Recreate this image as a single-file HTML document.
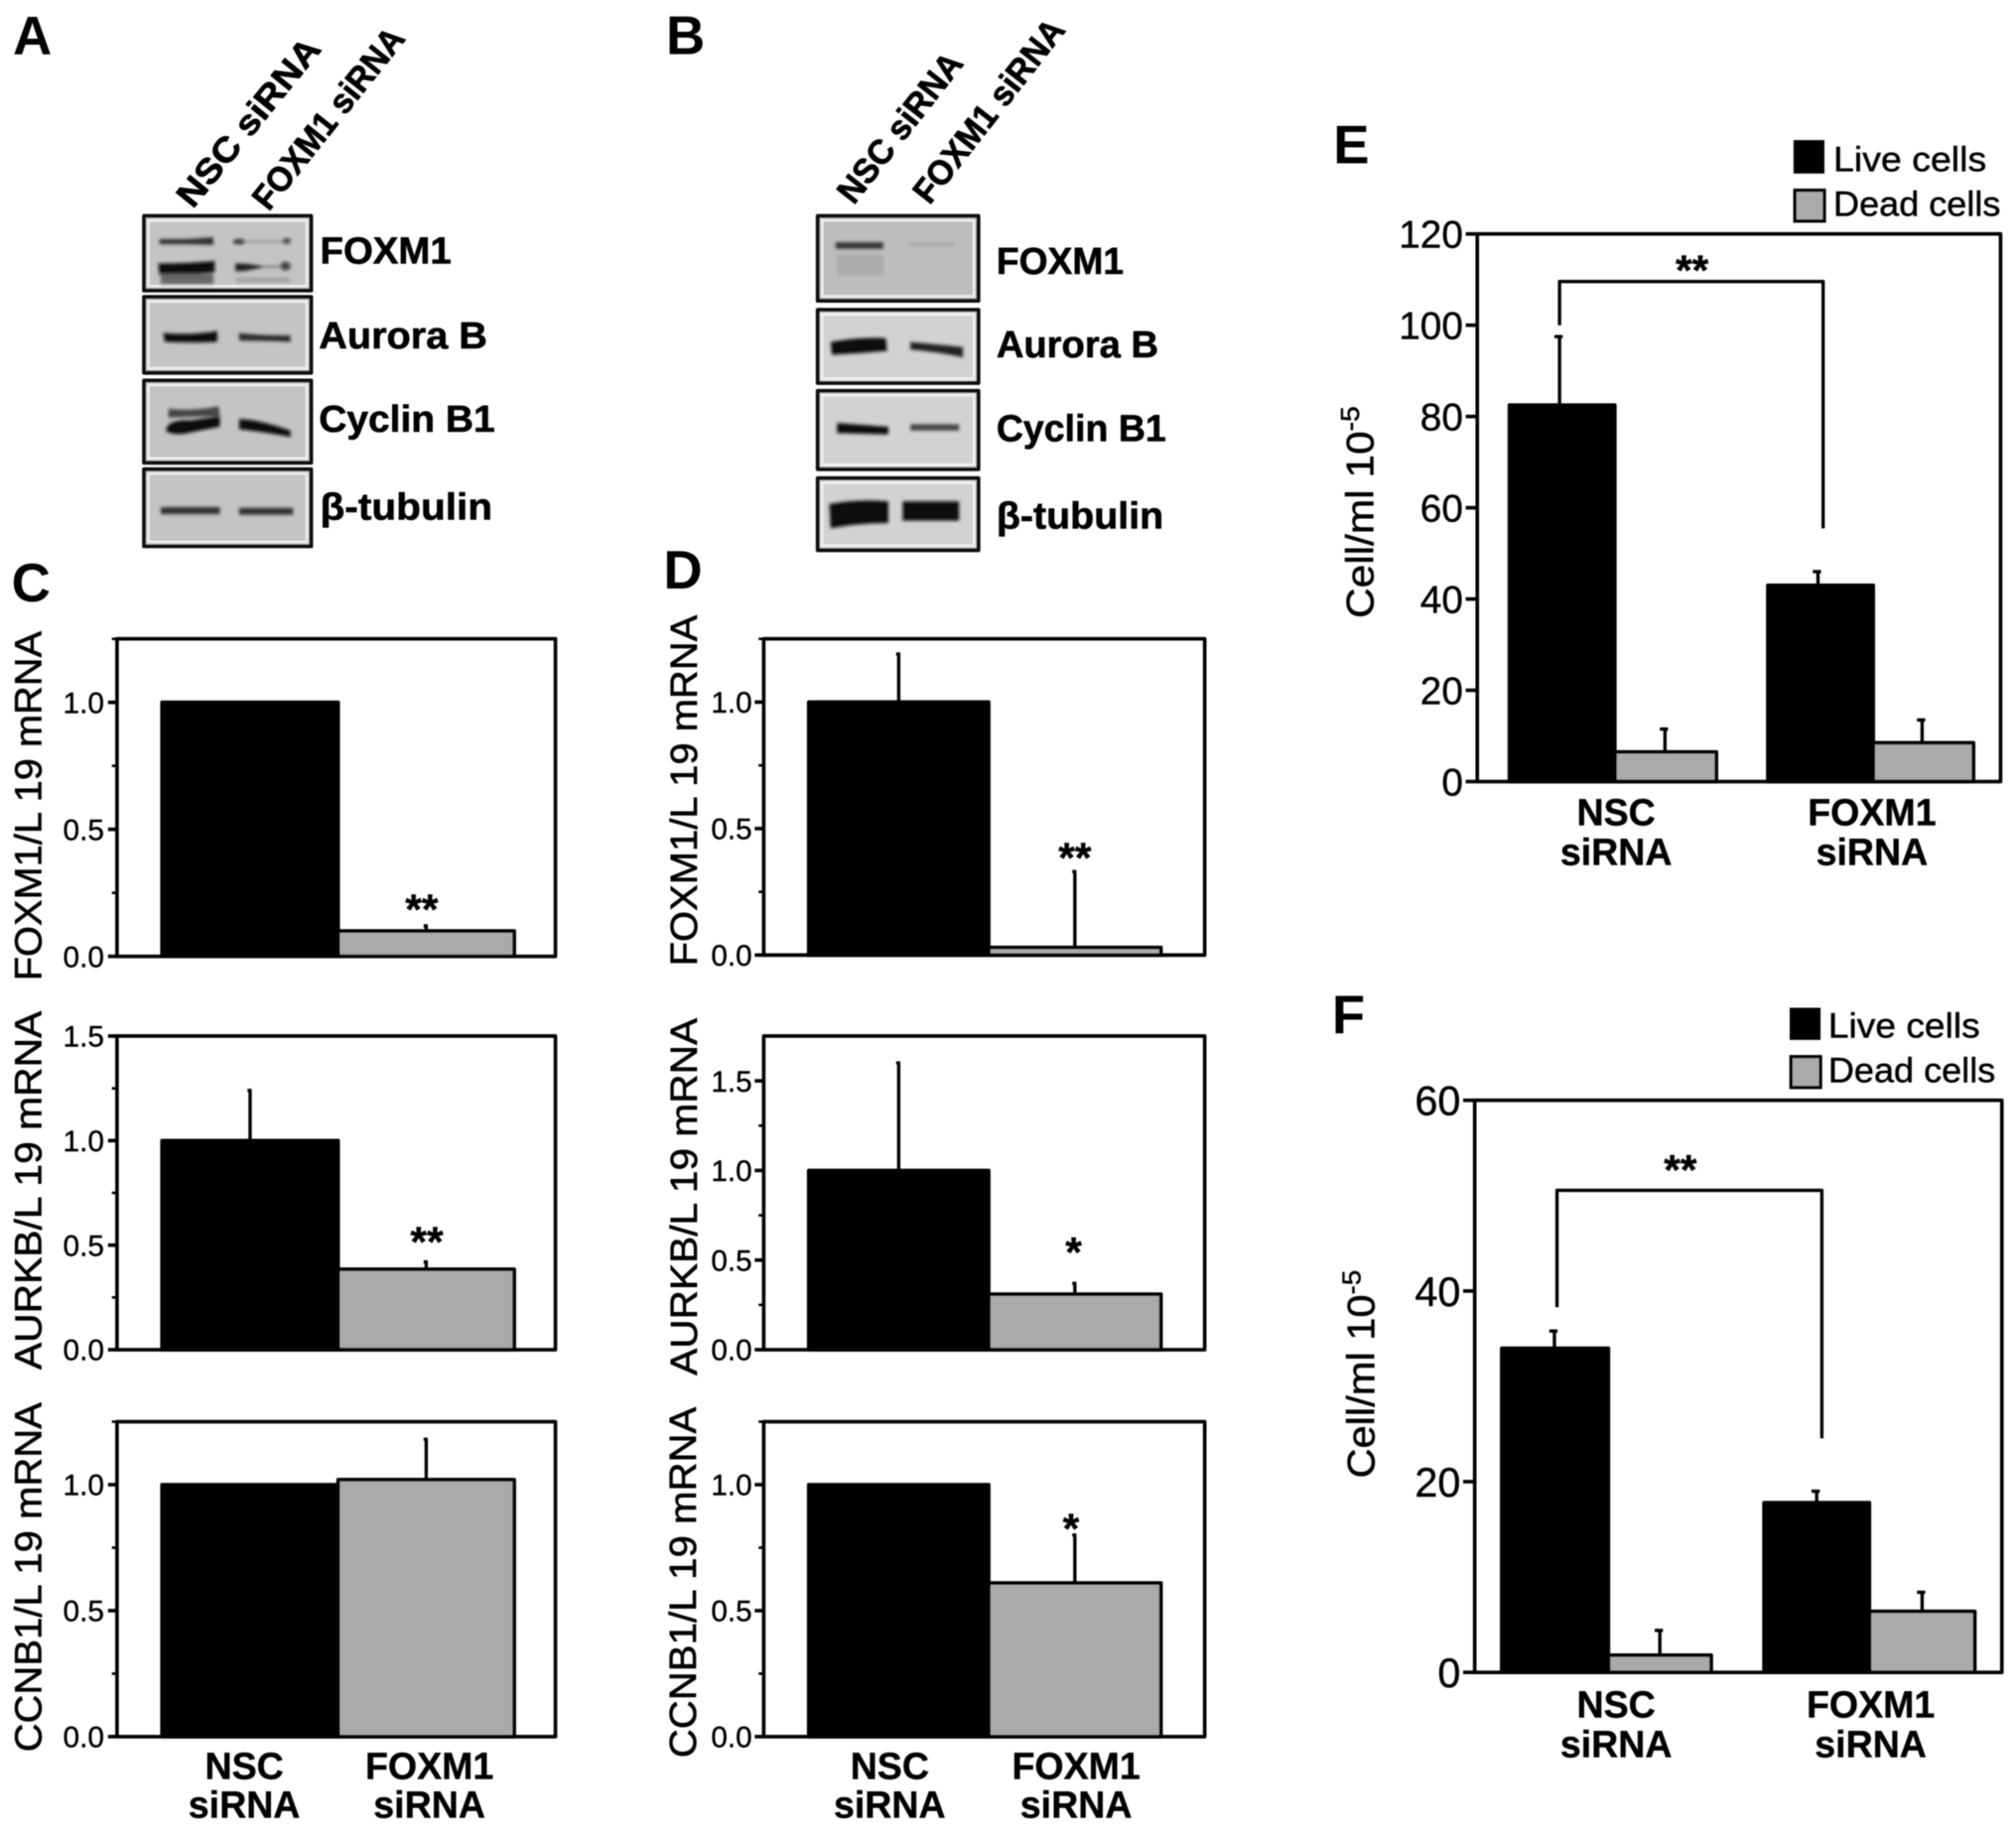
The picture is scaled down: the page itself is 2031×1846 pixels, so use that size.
<!DOCTYPE html>
<html lang="en">
<head>
<meta charset="utf-8">
<title>FOXM1 siRNA knockdown figure</title>
<style>
html,body{margin:0;padding:0;background:#fff;width:2031px;height:1846px;overflow:hidden}
svg{display:block}
text{font-family:"Liberation Sans",sans-serif;fill:#000}
.letter{font-size:42px;font-weight:bold}
.blot-label{font-size:29px;font-weight:bold;stroke:#000;stroke-width:.45px}
.rot{font-size:27px;font-weight:bold;stroke:#000;stroke-width:.55px}
.ytitle{font-size:29.5px;stroke:#000;stroke-width:.45px}
.ytitle2{font-size:30px;stroke:#000;stroke-width:.4px}
.legend{font-size:27px;stroke:#000;stroke-width:.35px}
.tick-text{stroke:#000;stroke-width:.3px}
.frame{fill:#c4c4c4;stroke:#111;stroke-width:3;stroke-linejoin:round}
.inner{fill:none;stroke:#f2f2f2;stroke-width:1.8}
</style>
</head>
<body>
<svg id="fig" xmlns="http://www.w3.org/2000/svg" width="2031" height="1846" viewBox="0 0 1568 1425.2">
<defs>
<filter id="soft" x="-2%" y="-2%" width="104%" height="104%"><feGaussianBlur stdDeviation="0.5"/></filter>
<filter id="bandblur" x="-20%" y="-100%" width="140%" height="300%"><feGaussianBlur stdDeviation="1.3"/></filter>
</defs>
<rect x="0" y="0" width="1568" height="1425.2" fill="#fff"/>
<g id="root" filter="url(#soft)">
  <text class="letter" x="10" y="42">A</text>
  <text class="letter" x="518" y="42">B</text>
  <text class="letter" x="9" y="468">C</text>
  <text class="letter" x="516" y="458">D</text>
  <text class="letter" x="1037" y="127">E</text>
  <text class="letter" x="1036" y="804">F</text>

  <!-- Blot A -->
  <g>
    <text class="rot" transform="translate(150,163) rotate(-51)" textLength="160" lengthAdjust="spacingAndGlyphs">NSC siRNA</text>
    <text class="rot" transform="translate(209,165) rotate(-51.5)" textLength="172" lengthAdjust="spacingAndGlyphs">FOXM1 siRNA</text>
    <rect class="frame" x="112" y="168" width="130" height="58"/><rect class="inner" x="115.500" y="171.500" width="123" height="51"/>
    <rect class="frame" x="112" y="231" width="130" height="59"/><rect class="inner" x="115.500" y="234.500" width="123" height="52"/>
    <rect class="frame" x="112" y="296" width="130" height="64"/><rect class="inner" x="115.500" y="299.500" width="123" height="57"/>
    <rect class="frame" x="112" y="365" width="130" height="60"/><rect class="inner" x="115.500" y="368.500" width="123" height="53"/>
    <g filter="url(#bandblur)" fill="#111">
      <path d="M124 186 L145 186 L166 184.500 L166 190.500 L145 190 L124 190Z" fill="#333"/>
      <path d="M123 205 Q145 205 167 203 L167 212 Q145 214 124 214Z"/>
      <rect x="125" y="213" width="41" height="8" fill="#666"/>
      <ellipse cx="186" cy="188" rx="5" ry="2.300" fill="#444"/>
      <rect x="190" y="187" width="30" height="1.800" fill="#999"/>
      <ellipse cx="223" cy="187.500" rx="3.500" ry="2.500" fill="#555"/>
      <path d="M183 205 L190 205 L205 207 L205 208 L190 211 L183 211Z" fill="#222"/>
      <rect x="205" y="206.500" width="18" height="2" fill="#888"/>
      <ellipse cx="222" cy="207" rx="4" ry="3.500" fill="#444"/>
      <rect x="184" y="216" width="42" height="4" fill="#a4a4a4"/>
      <path d="M127 259 Q148 261 169 257.500 L169 266 Q148 267 128 266Z"/>
      <path d="M186 259 Q200 261 226 261 L226 266 Q205 265 186 265Z" fill="#2a2a2a"/>
      <path d="M131 318 Q150 320 170 316 L171 324 Q150 324 131 325Z" fill="#444"/>
      <path d="M129 335 Q130 326 148 327 L171 324 L171 332 L150 336 Q135 340 129 335Z"/>
      <path d="M186 326 Q200 326 226 335 L226 340 Q205 336 186 334Z"/>
      <rect x="125" y="394.500" width="46" height="5.500" fill="#333"/>
      <rect x="186" y="395" width="42" height="5.500" fill="#333"/>
    </g>
  </g>

  <!-- Blot B -->
  <g>
    <text class="rot" transform="translate(664,160) rotate(-52)" textLength="140" lengthAdjust="spacingAndGlyphs">NSC siRNA</text>
    <text class="rot" transform="translate(723,160) rotate(-52)" textLength="173" lengthAdjust="spacingAndGlyphs">FOXM1 siRNA</text>
    <rect class="frame" x="636" y="168" width="125" height="66" style="fill:#bdbdbd"/><rect class="inner" x="639.500" y="171.500" width="118" height="59"/>
    <rect class="frame" x="636" y="241" width="125" height="57" style="fill:#d2d2d2"/><rect class="inner" x="639.500" y="244.500" width="118" height="50"/>
    <rect class="frame" x="636" y="304" width="125" height="61" style="fill:#d2d2d2"/><rect class="inner" x="639.500" y="307.500" width="118" height="54"/>
    <rect class="frame" x="636" y="372" width="125" height="56" style="fill:#d2d2d2"/><rect class="inner" x="639.500" y="375.500" width="118" height="49"/>
    <g filter="url(#bandblur)" fill="#111">
      <rect x="650" y="188.500" width="37" height="5" fill="#333"/>
      <rect x="651" y="198" width="36" height="16" fill="#aaa"/>
      <rect x="707" y="188.500" width="35" height="3" fill="#a8a8a8"/>
      <path d="M646 266 Q668 262 689 263 L690 273 Q668 275 647 276Z"/>
      <path d="M708 266 Q730 268 749 270 L749 278 Q730 274 708 272Z" fill="#222"/>
      <path d="M651 329 L691 332 L691 338 L651 337Z"/>
      <rect x="708" y="330" width="38" height="5" fill="#444"/>
      <path d="M645 392 Q668 388 691 390 L691 407 Q668 407 646 411Z"/>
      <path d="M702 390 L746 390 L746 405 L702 405Z"/>
    </g>
  </g>

  <g>
    <text class="blot-label" x="249" y="205" textLength="102" lengthAdjust="spacingAndGlyphs">FOXM1</text>
    <text class="blot-label" x="248" y="271" textLength="131" lengthAdjust="spacingAndGlyphs">Aurora B</text>
    <text class="blot-label" x="248" y="336" textLength="137" lengthAdjust="spacingAndGlyphs">Cyclin B1</text>
    <text class="blot-label" x="249" y="404" textLength="134" lengthAdjust="spacingAndGlyphs">β-tubulin</text>
    <text class="blot-label" x="775" y="213" textLength="99" lengthAdjust="spacingAndGlyphs">FOXM1</text>
    <text class="blot-label" x="775" y="278" textLength="126" lengthAdjust="spacingAndGlyphs">Aurora B</text>
    <text class="blot-label" x="775" y="343" textLength="132" lengthAdjust="spacingAndGlyphs">Cyclin B1</text>
    <text class="blot-label" x="775" y="411" textLength="130" lengthAdjust="spacingAndGlyphs">β-tubulin</text>
  </g>

  <!-- Y axis titles -->
  <text class="ytitle" transform="translate(32,627) rotate(-90)" text-anchor="middle" textLength="272" lengthAdjust="spacingAndGlyphs">FOXM1/L 19 mRNA</text>
  <text class="ytitle" transform="translate(32,926) rotate(-90)" text-anchor="middle" textLength="279" lengthAdjust="spacingAndGlyphs">AURKB/L 19 mRNA</text>
  <text class="ytitle" transform="translate(32,1227) rotate(-90)" text-anchor="middle" textLength="272" lengthAdjust="spacingAndGlyphs">CCNB1/L 19 mRNA</text>
  <text class="ytitle" transform="translate(542,615) rotate(-90)" text-anchor="middle" textLength="273" lengthAdjust="spacingAndGlyphs">FOXM1/L 19 mRNA</text>
  <text class="ytitle" transform="translate(542,931) rotate(-90)" text-anchor="middle" textLength="278" lengthAdjust="spacingAndGlyphs">AURKB/L 19 mRNA</text>
  <text class="ytitle" transform="translate(541,1231) rotate(-90)" text-anchor="middle" textLength="273" lengthAdjust="spacingAndGlyphs">CCNB1/L 19 mRNA</text>
  <text class="ytitle2" transform="translate(1068,481) rotate(-90)" textLength="165" lengthAdjust="spacingAndGlyphs">Cell/ml 10<tspan dy="-11" font-size="20">-5</tspan></text>
  <text class="ytitle2" transform="translate(1069,1150) rotate(-90)" textLength="162" lengthAdjust="spacingAndGlyphs">Cell/ml 10<tspan dy="-11" font-size="20">-5</tspan></text>

  <!-- Legends -->
  <g>
    <rect x="1395" y="109" width="24" height="26" fill="#000"/>
    <text class="legend" x="1426" y="133" textLength="119" lengthAdjust="spacingAndGlyphs">Live cells</text>
    <rect x="1396" y="148" width="23" height="24" fill="#aaa" stroke="#000" stroke-width="2.500"/>
    <text class="legend" x="1426" y="168" textLength="130" lengthAdjust="spacingAndGlyphs">Dead cells</text>
  </g>
  <g>
    <rect x="1392" y="784" width="24" height="25" fill="#000"/>
    <text class="legend" x="1422" y="807" textLength="118" lengthAdjust="spacingAndGlyphs">Live cells</text>
    <rect x="1393" y="822" width="23" height="24" fill="#aaa" stroke="#000" stroke-width="2.500"/>
    <text class="legend" x="1422" y="842" textLength="130" lengthAdjust="spacingAndGlyphs">Dead cells</text>
  </g>
  <g id="charts"></g>
</g>
</svg>
<script>
// Data
const categoryLabels = ['NSC', 'FOXM1'];
const categorySuffix = 'siRNA';

const ticksTop = ['0.0', '0.5', '1.0'];
const ticksAurkbC = ['0.0', '0.5', '1.0', '1.5'];
const ticksAurkbD = ['0.0', '0.5', '1.0', '1.5'];
const minorTop = [0.25, 0.75, 1.25];
const minorAurkbC = [0.25, 0.75, 1.25];
const minorAurkbD = [0.25, 0.75, 1.25];
const ticksE = ['0', '20', '40', '60', '80', '100', '120'];
const ticksF = ['0', '20', '40', '60'];

const c1Values = [1.0, 0.1];
const c1Errors = [null, 0.12];
const c2Values = [1.0, 0.385];
const c2Errors = [1.24, 0.42];
const c3Values = [1.0, 1.02];
const c3Errors = [null, 1.18];

const d1Values = [1.0, 0.03];
const d1Errors = [1.19, 0.33];
const d2Values = [1.0, 0.31];
const d2Errors = [1.6, 0.37];
const d3Values = [1.0, 0.61];
const d3Errors = [null, 0.8];

const eLive = [82.5, 43];
const eLiveErrors = [97.5, 46];
const eDead = [6.5, 8.5];
const eDeadErrors = [11.5, 13.5];

const fLive = [34, 17.8];
const fLiveErrors = [35.8, 19];
const fDead = [1.8, 6.4];
const fDeadErrors = [4.4, 8.4];

const NS = 'http://www.w3.org/2000/svg';
const chartsRoot = document.getElementById('charts');

function mk(parent, tag, attrs, name) {
  const el = document.createElementNS(NS, tag);
  for (const k in attrs) el.setAttribute(k, attrs[k]);
  
  
  parent.appendChild(el);
  return el;
}
function label(parent, x, y, str, size, weight, anchor, name) {
  const t = mk(parent, 'text', {x: x, y: y, 'font-size': size, 'font-weight': weight, 'text-anchor': anchor, 'class': 'tick-text'}, name);
  t.textContent = str;
  return t;
}
function scale(p) {
  return v => p.bottom - (v / p.max) * (p.bottom - p.top);
}
function drawAxes(g, p, y) {
  const lw = p.lw;
  mk(g, 'rect', {x: p.left, y: p.top, width: p.right - p.left, height: p.bottom - p.top, fill: 'none', stroke: '#000', 'stroke-width': lw, 'stroke-linejoin': 'round'}, 'plot-frame');
  p.ticks.forEach(t => {
    const v = parseFloat(t);
    mk(g, 'line', {x1: p.left - p.tickLen, x2: p.left, y1: y(v), y2: y(v), stroke: '#000', 'stroke-width': lw}, 'y-tick-' + t);
    label(g, p.left - p.tickLen - p.labelGap, y(v) + p.tickSize * 0.36, t, p.tickSize, 'normal', 'end', 'y-tick-label-' + t);
  });
  (p.minor || []).forEach(v => {
    mk(g, 'line', {x1: p.left - 4, x2: p.left, y1: y(v), y2: y(v), stroke: '#000', 'stroke-width': 2}, 'y-minor-tick');
  });
}
function drawBar(g, y, x0, x1, value, fill, name) {
  mk(g, 'rect', {x: x0, y: y(value), width: x1 - x0, height: y(0) - y(value), fill: fill, stroke: '#000', 'stroke-width': 2.8, 'stroke-linejoin': 'round'}, name);
}
function drawError(g, y, x, value, err, cap, name) {
  if (err === null) return;
  mk(g, 'line', {x1: x, x2: x, y1: y(value), y2: y(err), stroke: '#000', 'stroke-width': 2.6}, name);
  mk(g, 'line', {x1: x - cap, x2: x + cap * 0.6, y1: y(err), y2: y(err), stroke: '#000', 'stroke-width': 2.6}, name + '-cap');
}
function stars(g, x, yc, str, name) {
  label(g, x, yc + 15.6, str, 33, 'bold', 'middle', name);
}
function catLabels(g, xs, y1, y2, size, nm) {
  categoryLabels.forEach((c, i) => {
    label(g, xs[i], y1, c, size, 'bold', 'middle', nm + '-category-' + c.toLowerCase());
    label(g, xs[i], y2, categorySuffix, size, 'bold', 'middle', nm + '-category-sirna-' + c.toLowerCase());
  });
}

// Two-bar qPCR panels
function twoBar(p) {
  const g = mk(chartsRoot, 'g', {}, 'chart-' + p.id);
  const y = scale(p);
  p.values.forEach((v, i) => {
    const x0 = p.barEdges[i], x1 = p.barEdges[i + 1];
    drawError(g, y, (x0 + x1) / 2, v, p.errors[i], 2, 'error-bar-' + p.id + '-' + categoryLabels[i].toLowerCase());
  });
  p.values.slice().reverse().forEach((v, r) => {
    const i = p.values.length - 1 - r;
    drawBar(g, y, p.barEdges[i], p.barEdges[i + 1], v, i === 0 ? '#000' : '#aaaaaa', 'bar-' + p.id + '-' + categoryLabels[i].toLowerCase());
  });
  drawAxes(g, p, y);
  if (p.star) stars(g, p.star[0], p.star[1], p.star[2], 'significance-' + p.id);
  return g;
}

const leftC = {left: 91, right: 432, lw: 2.8, tickLen: 7, labelGap: 3, tickSize: 23, barEdges: [126, 263, 400]};
const leftD = {left: 594, right: 937, lw: 2.8, tickLen: 7, labelGap: 2, tickSize: 23, barEdges: [629, 769, 903]};

twoBar(Object.assign({}, leftC, {id: 'c1', top: 497, bottom: 744, max: 1.25, ticks: ticksTop, minor: minorTop, values: c1Values, errors: c1Errors, star: [328, 703, '**']}));
twoBar(Object.assign({}, leftC, {id: 'c2', top: 806, bottom: 1050, max: 1.5, ticks: ticksAurkbC, minor: minorAurkbC, values: c2Values, errors: c2Errors, star: [332, 962, '**']}));
const gc3 = twoBar(Object.assign({}, leftC, {id: 'c3', top: 1106, bottom: 1351, max: 1.25, ticks: ticksTop, minor: minorTop, values: c3Values, errors: c3Errors}));
catLabels(gc3, [190, 334], 1384, 1414, 29, 'c');

twoBar(Object.assign({}, leftD, {id: 'd1', top: 497, bottom: 743, max: 1.25, ticks: ticksTop, minor: minorTop, values: d1Values, errors: d1Errors, star: [836, 663, '**']}));
twoBar(Object.assign({}, leftD, {id: 'd2', top: 806, bottom: 1050, max: 1.75, ticks: ticksAurkbD, minor: minorAurkbD, values: d2Values, errors: d2Errors, star: [835, 970, '*']}));
const gd3 = twoBar(Object.assign({}, leftD, {id: 'd3', top: 1106, bottom: 1351, max: 1.25, ticks: ticksTop, minor: minorTop, values: d3Values, errors: d3Errors, star: [833, 1185, '*']}));
catLabels(gd3, [692, 837], 1384, 1414, 29, 'd');

// Grouped live / dead panels
function grouped(p) {
  const g = mk(chartsRoot, 'g', {}, 'chart-' + p.id);
  const y = scale(p);
  categoryLabels.forEach((c, i) => {
    const e = p.edges[i];
    const nm = c.toLowerCase();
    drawError(g, y, p.errX[i * 2], p.live[i], p.liveErr[i], 4, 'error-bar-live-' + p.id + '-' + nm);
    drawError(g, y, p.errX[i * 2 + 1], p.dead[i], p.deadErr[i], 4, 'error-bar-dead-' + p.id + '-' + nm);
    drawBar(g, y, e[1], e[2], p.dead[i], '#aaaaaa', 'bar-dead-' + p.id + '-' + nm);
    drawBar(g, y, e[0], e[1], p.live[i], '#000', 'bar-live-' + p.id + '-' + nm);
  });
  drawAxes(g, p, y);
  const b = p.bracket;
  mk(g, 'path', {d: 'M' + b.x0 + ' ' + b.y0 + 'V' + b.y + 'H' + b.x1 + 'V' + b.y1, fill: 'none', stroke: '#000', 'stroke-width': 2.6, 'stroke-linejoin': 'round'}, 'significance-bracket-' + p.id);
  stars(g, b.sx, b.sy, '**', 'significance-' + p.id);
  catLabels(g, p.catX, p.catY[0], p.catY[1], 29, p.id);
}

grouped({id: 'e', left: 1149, right: 1556, top: 182, bottom: 608, max: 120, lw: 2.8, tickLen: 9, labelGap: 2, tickSize: 30, ticks: ticksE,
  live: eLive, liveErr: eLiveErrors, dead: eDead, deadErr: eDeadErrors,
  edges: [[1174, 1256, 1335], [1375, 1457, 1535]], errX: [1213, 1295, 1414, 1495],
  bracket: {x0: 1213, x1: 1418, y: 219, y0: 253, y1: 411, sx: 1316, sy: 206},
  catX: [1257, 1456], catY: [642, 673]});

grouped({id: 'f', left: 1147, right: 1557, top: 856, bottom: 1301, max: 60, lw: 2.8, tickLen: 9, labelGap: 2, tickSize: 32, ticks: ticksF,
  live: fLive, liveErr: fLiveErrors, dead: fDead, deadErr: fDeadErrors,
  edges: [[1168, 1251, 1331], [1372, 1454, 1536]], errX: [1209, 1291, 1413, 1495],
  bracket: {x0: 1211, x1: 1417, y: 926, y0: 1017, y1: 1119, sx: 1307, sy: 906},
  catX: [1257, 1455], catY: [1336, 1367]});
</script>
</body>
</html>
